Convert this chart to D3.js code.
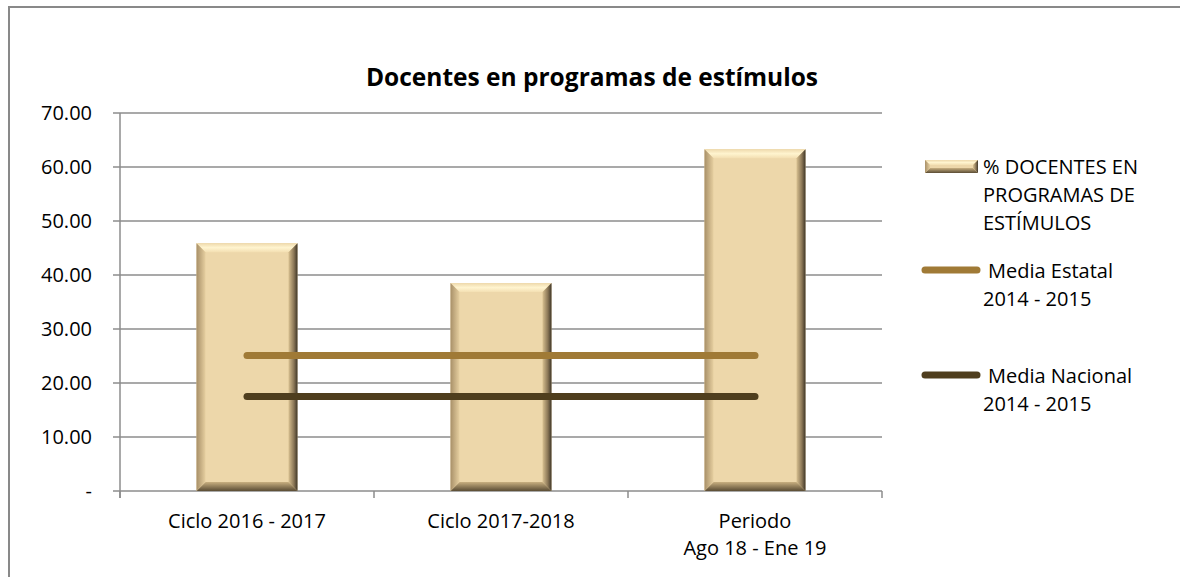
<!DOCTYPE html>
<head>
  <meta charset="utf-8">
  <title>Docentes en programas de estímulos</title>
  <script src="https://d3js.org/d3.v7.min.js"></script>
  <style>
  body { margin: 0; background: #fff; }
  text { font-family: "Open Sans", Lato, sans-serif; fill: #000; }
  </style>
</head>
<body>
  <script>

    // Data
    var categories = [["Ciclo 2016 - 2017"], ["Ciclo 2017-2018"], ["Periodo", "Ago 18 - Ene 19"]];
    var docentes = [45.9, 38.5, 63.3];
    var mediaEstatal = [25.1, 25.1, 25.1];
    var mediaNacional = [17.5, 17.5, 17.5];
    var yTicks = [0, 10, 20, 30, 40, 50, 60, 70];

    var W = 1180, H = 577;
    var margin = {top: 113, left: 120},
      width = 762,
      height = 378;
    var fs = "20px";

    var svg = d3.select("body").append("svg")
      .attr("width", W)
      .attr("height", H);

    // Outer frame
    svg.append("rect")
      .attr("x", 9).attr("y", 7)
      .attr("width", W + 20).attr("height", H + 20)
      .attr("fill", "none")
      .attr("stroke", "#898989")
      .attr("stroke-width", 2);

    // Title
    svg.append("text")
      .attr("x", 592).attr("y", 86)
      .attr("text-anchor", "middle")
      .style("font-size", "24.5px")
      .style("font-weight", "bold")
      .text("Docentes en programas de estímulos");

    var g = svg.append("g")
      .attr("transform", "translate(" + margin.left + "," + margin.top + ")");

    var x = d3.scaleBand()
      .domain(d3.range(categories.length))
      .range([0, width])
      .paddingInner(0)
      .paddingOuter(0);

    var y = d3.scaleLinear()
      .domain([0, 70])
      .range([height, 0]);

    // Gridlines
    g.selectAll(".grid")
      .data(yTicks)
      .enter().append("line")
      .attr("x1", -7).attr("x2", width)
      .attr("y1", function(d) { return y(d); })
      .attr("y2", function(d) { return y(d); })
      .attr("stroke", "#8c8c8c")
      .attr("stroke-width", 1.5);

    // Y axis line and labels
    g.append("line")
      .attr("x1", 0).attr("x2", 0)
      .attr("y1", 0).attr("y2", height + 7)
      .attr("stroke", "#8c8c8c").attr("stroke-width", 1.5);

    g.selectAll(".ylab")
      .data(yTicks)
      .enter().append("text")
      .attr("x", -28)
      .attr("y", function(d) { return y(d); })
      .attr("dy", "0.35em")
      .attr("text-anchor", "end")
      .style("font-size", fs)
      .text(function(d) { return d === 0 ? "-" : d3.format(".2f")(d); });

    // X axis ticks at category boundaries
    g.selectAll(".xtick")
      .data(d3.range(categories.length + 1))
      .enter().append("line")
      .attr("x1", function(i) { return i * x.bandwidth(); })
      .attr("x2", function(i) { return i * x.bandwidth(); })
      .attr("y1", height).attr("y2", height + 7)
      .attr("stroke", "#8c8c8c").attr("stroke-width", 1.5);

    g.selectAll(".xlab")
      .data(categories)
      .enter().append("text")
      .attr("text-anchor", "middle")
      .attr("x", function(d, i) { return x(i) + x.bandwidth() / 2; })
      .attr("y", height + 37)
      .style("font-size", fs)
      .selectAll("tspan")
      .data(function(d) { return d; })
      .enter().append("tspan")
      .attr("x", function() { return this.parentNode.getAttribute("x"); })
      .attr("dy", function(d, i) { return i === 0 ? 0 : 27; })
      .text(function(d) { return d; });

    // Bevel gradients
    var defs = svg.append("defs");
    function grad(id, x1, y1, x2, y2, stops) {
      var lg = defs.append("linearGradient").attr("id", id)
        .attr("x1", x1).attr("y1", y1).attr("x2", x2).attr("y2", y2);
      stops.forEach(function(s) {
        lg.append("stop").attr("offset", s[0]).attr("stop-color", s[1]);
      });
    }
    grad("bvTop", 0, 0, 0, 1, [[0, "#EED9AC"], [0.5, "#FFF4CF"], [1, "#F3DFB2"]]);
    grad("bvLeft", 0, 0, 1, 0, [[0, "#A89068"], [1, "#E6CFA0"]]);
    grad("bvRight", 0, 0, 1, 0, [[0, "#D8C090"], [0.6, "#8A7656"], [1, "#3E3628"]]);
    grad("bvBottom", 0, 0, 0, 1, [[0, "#C8AF80"], [1, "#5A4C34"]]);

    var barW = 101, bev = 9;

    function drawBevelBar(sel, x0, y0, w, h, b) {
      var x1 = x0 + w, y1 = y0 + h;
      sel.append("rect").attr("x", x0).attr("y", y0).attr("width", w).attr("height", h)
        .attr("fill", "#EDD7AA");
      sel.append("polygon").attr("fill", "url(#bvTop)")
        .attr("points", [[x0, y0], [x1, y0], [x1 - b, y0 + b], [x0 + b, y0 + b]].join(" "));
      sel.append("polygon").attr("fill", "url(#bvBottom)")
        .attr("points", [[x0, y1], [x1, y1], [x1 - b, y1 - b], [x0 + b, y1 - b]].join(" "));
      sel.append("polygon").attr("fill", "url(#bvLeft)")
        .attr("points", [[x0, y0], [x0 + b, y0 + b], [x0 + b, y1 - b], [x0, y1]].join(" "));
      sel.append("polygon").attr("fill", "url(#bvRight)")
        .attr("points", [[x1, y0], [x1 - b, y0 + b], [x1 - b, y1 - b], [x1, y1]].join(" "));
    }

    docentes.forEach(function(v, i) {
      var bx = x(i) + (x.bandwidth() - barW) / 2;
      drawBevelBar(g.append("g"), bx, y(v), barW, height - y(v), bev);
    });

    // Mean lines
    var line = d3.line()
      .x(function(d, i) { return x(i) + x.bandwidth() / 2; })
      .y(function(d) { return y(d); });

    g.append("path").datum(mediaEstatal)
      .attr("d", line)
      .attr("fill", "none").attr("stroke", "#A07A36")
      .attr("stroke-width", 7).attr("stroke-linecap", "round");

    g.append("path").datum(mediaNacional)
      .attr("d", line)
      .attr("fill", "none").attr("stroke", "#4F3E1E")
      .attr("stroke-width", 7).attr("stroke-linecap", "round");

    // Legend
    var lg = svg.append("g");
    drawBevelBar(lg, 925, 160, 53, 13, 5);
    var legText = [
      {x: 983, y: 167, t: "% DOCENTES EN"},
      {x: 983, y: 195, t: "PROGRAMAS DE"},
      {x: 983, y: 223, t: "ESTÍMULOS"},
      {x: 988, y: 271, t: "Media Estatal"},
      {x: 983, y: 299, t: "2014 - 2015"},
      {x: 988, y: 376, t: "Media Nacional"},
      {x: 983, y: 404, t: "2014 - 2015"}
    ];
    lg.selectAll("text").data(legText).enter().append("text")
      .attr("x", function(d) { return d.x; })
      .attr("y", function(d) { return d.y; })
      .attr("dy", "0.35em")
      .style("font-size", fs)
      .text(function(d) { return d.t; });

    lg.append("line").attr("x1", 925).attr("x2", 977).attr("y1", 270).attr("y2", 270)
      .attr("stroke", "#A07A36").attr("stroke-width", 7).attr("stroke-linecap", "round");
    lg.append("line").attr("x1", 925).attr("x2", 977).attr("y1", 375).attr("y2", 375)
      .attr("stroke", "#4F3E1E").attr("stroke-width", 7).attr("stroke-linecap", "round");

  </script>
</body>
</html>
